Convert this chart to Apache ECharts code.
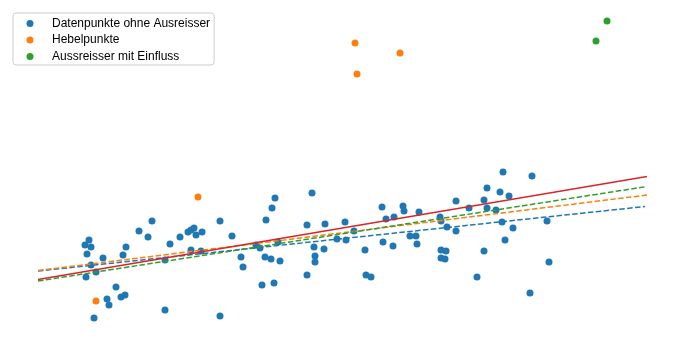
<!DOCTYPE html>
<html><head><meta charset="utf-8">
<script src="https://cdn.jsdelivr.net/npm/echarts@6/dist/echarts.min.js"></script>
<style>html,body{margin:0;padding:0;background:#fff}#c{width:683px;height:340px}</style>
</head><body><div id="c"></div>
<script>
const seriesNames = ['Datenpunkte ohne Ausreisser', 'Hebelpunkte', 'Aussreisser mit Einfluss'];
const bluePoints = [
[85,95],[89,100],[91,93],[87,86],[91,75],[86,63],[96,68],[103,82],[116,53],[107,41],[109,35],[121,43],[125,45],[94,22],[123,85],[126,93],[139,109],[148,103],[152,119],[170,96],[165,80],[165,30],[180,103],[188,108],[191,110],[194,112],[196,105],[202,108],[191,90],[201,89],[220,119],[232,104],[241,83],[243,73],[220,24],
[262,55],[274,57],[275,142],[272,132],[266,120],[256,95],[260,92],[265,83],[271,81],[280,79],[278,98],[312,147],[307,115],[314,93],[315,84],[315,78],[307,65],[325,116],[324,91],[345,118],[354,109],[337,101],[346,100],[365,90],[366,65],[371,63],
[382,133],[386,121],[394,123],[383,98],[393,94],[403,134],[404,129],[419,128],[410,104],[416,104],[417,96],[440,123],[441,119],[447,113],[456,109],[456,139],[441,90],[446,89],[441,82],[445,81],[469,132],[484,89],[477,63],[487,152],[484,140],[487,132],[496,130],[500,148],[503,168],[509,144],[502,118],[513,112],[505,100],[532,164],[547,119],[549,78],[530,47]
];
const orangePoints = [[198,143],[96,39],[355,297],[400,287],[357,266]];
const greenPoints = [[607,319],[596,299]];
const fitBlue = [[38,69],[645,133.5]];
const fitOrange = [[38,69.5],[647,145]];
const fitGreen = [[38,59],[647,153.5]];
const fitRed = [[38,60.5],[647,163.5]];

const C = {blue:'#1f77b4', orange:'#ff7f0e', green:'#2ca02c', red:'#d62728'};
const chart = echarts.init(document.getElementById('c'), null, {renderer:'canvas'});
function sc(name, data, color){
  return {type:'scatter', name, data, symbolSize:7, itemStyle:{color, opacity:1}, z:2, animation:false};
}
function ln(data, color, dashed){
  return {type:'line', data, symbol:'none', silent:true, z:3, animation:false,
    lineStyle:{color, width:1.5, type: dashed ? [5.5,2.4] : 'solid'}};
}
chart.setOption({
  animation:false,
  grid:{left:0,right:0,top:0,bottom:0},
  xAxis:{type:'value',min:0,max:683,show:false},
  yAxis:{type:'value',min:0,max:340,show:false},
  legend:{
    data:seriesNames.map(n=>({name:n, icon:'circle'})),
    orient:'vertical', left:13, top:13,
    padding:[4,4,2,13.5], itemWidth:7, itemHeight:7, itemGap:3.5,
    borderColor:'#cccccc', borderWidth:1, borderRadius:3, backgroundColor:'#fff',
    textStyle:{fontFamily:'Liberation Sans, Arial, sans-serif', fontSize:12, color:'#000', lineHeight:13, padding:[0,0,0,13.5]},
    selectedMode:false
  },
  series:[
    sc(seriesNames[0], bluePoints, C.blue),
    sc(seriesNames[1], orangePoints, C.orange),
    sc(seriesNames[2], greenPoints, C.green),
    ln(fitBlue, C.blue, true),
    ln(fitOrange, C.orange, true),
    ln(fitGreen, C.green, true),
    ln(fitRed, C.red, false)
  ]
});
</script></body></html>
